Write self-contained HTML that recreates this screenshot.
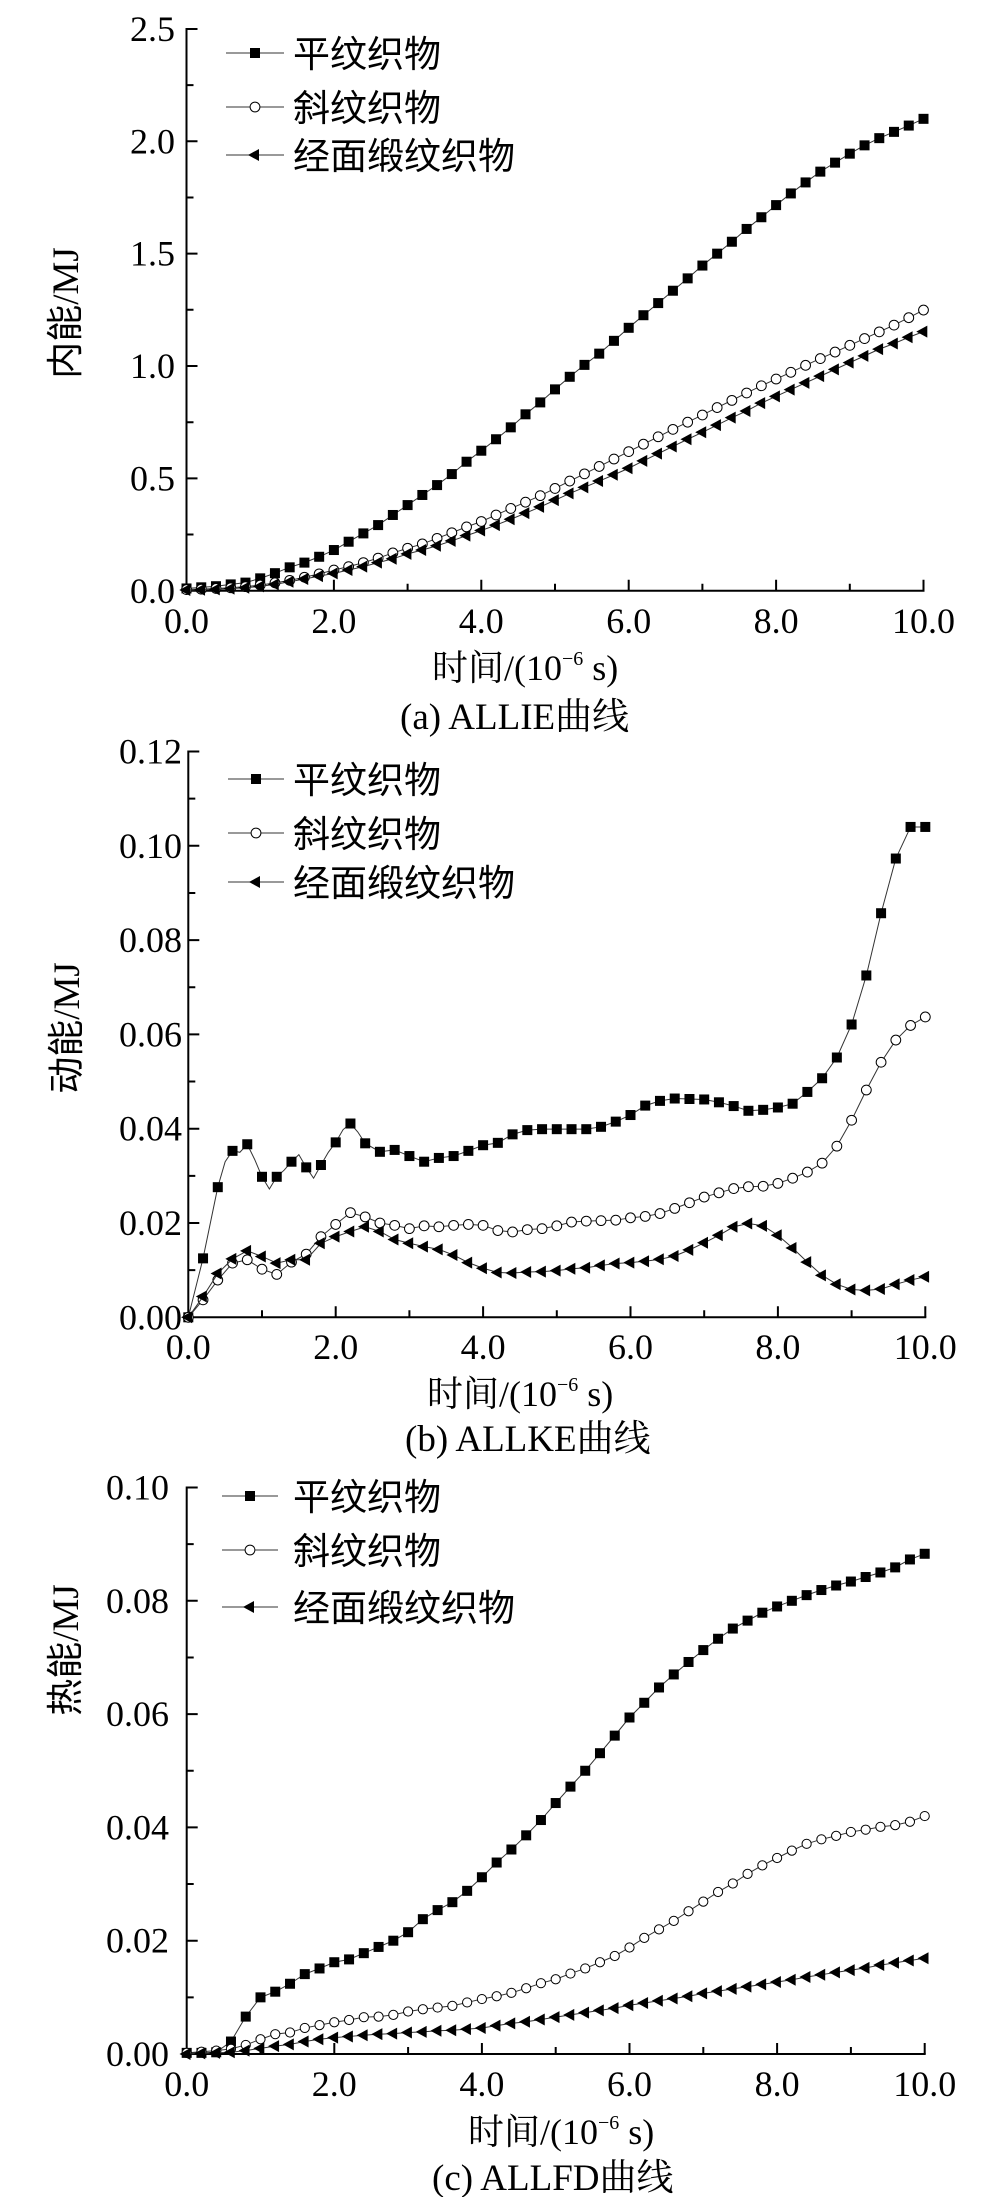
<!DOCTYPE html>
<html><head><meta charset="utf-8">
<style>
html,body{margin:0;padding:0;background:#fff;}
svg{display:block;}
.num{font-family:"Liberation Serif","Noto Serif CJK SC",serif;font-size:36px;fill:#000;}
.ttl{font-family:"Liberation Serif","Noto Serif CJK SC",serif;font-size:36px;fill:#000;}
.cap{font-family:"Liberation Serif","Noto Serif CJK SC",serif;font-size:37px;fill:#000;}
.ylab{font-family:"Liberation Serif","Noto Sans CJK SC",serif;font-size:37px;fill:#000;}
.leg{font-family:"Liberation Sans","Noto Sans CJK SC",sans-serif;font-size:37px;fill:#000;}
</style></head>
<body>
<svg xmlns="http://www.w3.org/2000/svg" width="1000" height="2197" viewBox="0 0 1000 2197">
<defs>
<marker id="sA" markerUnits="userSpaceOnUse" overflow="visible" markerWidth="1" markerHeight="0.2" refX="0.5" refY="0.1"><g transform="translate(0.5,0.1) scale(0.013569,-0.0044504)"><rect x="-5" y="-5" width="10" height="10" fill="#000"/></g></marker>
<marker id="cA" markerUnits="userSpaceOnUse" overflow="visible" markerWidth="1" markerHeight="0.2" refX="0.5" refY="0.1"><g transform="translate(0.5,0.1) scale(0.013569,-0.0044504)"><circle r="4.9" fill="#fff" stroke="#000" stroke-width="1"/></g></marker>
<marker id="tA" markerUnits="userSpaceOnUse" overflow="visible" markerWidth="1" markerHeight="0.2" refX="0.5" refY="0.1"><g transform="translate(0.5,0.1) scale(0.013569,-0.0044504)"><polygon points="-7.2,0 3.8,-6 3.8,6" fill="#000"/></g></marker>
<marker id="sB" markerUnits="userSpaceOnUse" overflow="visible" markerWidth="1" markerHeight="1" refX="0.5" refY="0.5"><g transform="translate(0.5,0.5) scale(0.013569,-0.021209)"><rect x="-5" y="-5" width="10" height="10" fill="#000"/></g></marker>
<marker id="cB" markerUnits="userSpaceOnUse" overflow="visible" markerWidth="1" markerHeight="1" refX="0.5" refY="0.5"><g transform="translate(0.5,0.5) scale(0.013569,-0.021209)"><circle r="4.9" fill="#fff" stroke="#000" stroke-width="1"/></g></marker>
<marker id="tB" markerUnits="userSpaceOnUse" overflow="visible" markerWidth="1" markerHeight="1" refX="0.5" refY="0.5"><g transform="translate(0.5,0.5) scale(0.013569,-0.021209)"><polygon points="-7.2,0 3.8,-6 3.8,6" fill="#000"/></g></marker>
<marker id="sC" markerUnits="userSpaceOnUse" overflow="visible" markerWidth="1" markerHeight="1" refX="0.5" refY="0.5"><g transform="translate(0.5,0.5) scale(0.01355,-0.017652)"><rect x="-5" y="-5" width="10" height="10" fill="#000"/></g></marker>
<marker id="cC" markerUnits="userSpaceOnUse" overflow="visible" markerWidth="1" markerHeight="1" refX="0.5" refY="0.5"><g transform="translate(0.5,0.5) scale(0.01355,-0.017652)"><circle r="4.6" fill="#fff" stroke="#000" stroke-width="1"/></g></marker>
<marker id="tC" markerUnits="userSpaceOnUse" overflow="visible" markerWidth="1" markerHeight="1" refX="0.5" refY="0.5"><g transform="translate(0.5,0.5) scale(0.01355,-0.017652)"><polygon points="-7.2,0 3.8,-6 3.8,6" fill="#000"/></g></marker>
</defs>

<!-- ================= PANEL A ================= -->
<g stroke="#000" stroke-width="2" fill="none">
<line x1="186.5" y1="28" x2="186.5" y2="591.7"/>
<line x1="185.5" y1="590.7" x2="924.5" y2="590.7"/>
<path d="M186.5 478.35h11M186.5 366h11M186.5 253.65h11M186.5 141.3h11M186.5 28.95h11"/>
<path d="M186.5 534.5h7M186.5 422.2h7M186.5 309.8h7M186.5 197.5h7M186.5 85.1h7"/>
<path d="M333.9 590.7v-11M481.3 590.7v-11M628.7 590.7v-11M776.1 590.7v-11M923.5 590.7v-11"/>
<path d="M260.2 590.7v-7M407.6 590.7v-7M555 590.7v-7M702.4 590.7v-7M849.8 590.7v-7"/>
</g>
<g class="num" text-anchor="end">
<text x="175" y="603">0.0</text><text x="175" y="490.5">0.5</text><text x="175" y="378">1.0</text>
<text x="175" y="265.7">1.5</text><text x="175" y="153.3">2.0</text><text x="175" y="41">2.5</text>
</g>
<g class="num" text-anchor="middle">
<text x="186.5" y="633">0.0</text><text x="333.9" y="633">2.0</text><text x="481.3" y="633">4.0</text>
<text x="628.7" y="633">6.0</text><text x="776.1" y="633">8.0</text><text x="923.5" y="633">10.0</text>
</g>
<text class="ttl" x="432" y="680">时间/(10<tspan font-size="20" dy="-15">−6</tspan><tspan dy="15"> s)</tspan></text>
<text class="cap" x="400" y="729">(a) ALLIE曲线</text>
<text class="ylab" x="78" y="313" text-anchor="middle" transform="rotate(-90 78 313)">内能/MJ</text>

<g transform="translate(186.5,590.7) scale(73.7,-224.7)">
<polyline fill="none" stroke="#333" stroke-width="1" vector-effect="non-scaling-stroke" points="0,0.01 0.2,0.015 0.4,0.02 0.6,0.028 0.8,0.036 1,0.055 1.2,0.078 1.4,0.104 1.6,0.125 1.8,0.151 2,0.181 2.2,0.218 2.4,0.255 2.6,0.292 2.8,0.337 3,0.381 3.2,0.426 3.4,0.47 3.6,0.519 3.8,0.574 4,0.623 4.2,0.674 4.4,0.727 4.6,0.785 4.8,0.838 5,0.896 5.2,0.952 5.4,1.005 5.6,1.055 5.8,1.112 6,1.17 6.2,1.226 6.4,1.28 6.6,1.335 6.8,1.39 7,1.447 7.2,1.5 7.4,1.553 7.6,1.61 7.8,1.662 8,1.716 8.2,1.768 8.4,1.817 8.6,1.865 8.8,1.905 9,1.945 9.2,1.982 9.4,2.014 9.6,2.042 9.8,2.07 10,2.1"/>
<polyline fill="none" stroke="none" marker-start="url(#sA)" marker-mid="url(#sA)" marker-end="url(#sA)" points="0,0.01 0.2,0.015 0.4,0.02 0.6,0.028 0.8,0.036 1,0.055 1.2,0.078 1.4,0.104 1.6,0.125 1.8,0.151 2,0.181 2.2,0.218 2.4,0.255 2.6,0.292 2.8,0.337 3,0.381 3.2,0.426 3.4,0.47 3.6,0.519 3.8,0.574 4,0.623 4.2,0.674 4.4,0.727 4.6,0.785 4.8,0.838 5,0.896 5.2,0.952 5.4,1.005 5.6,1.055 5.8,1.112 6,1.17 6.2,1.226 6.4,1.28 6.6,1.335 6.8,1.39 7,1.447 7.2,1.5 7.4,1.553 7.6,1.61 7.8,1.662 8,1.716 8.2,1.768 8.4,1.817 8.6,1.865 8.8,1.905 9,1.945 9.2,1.982 9.4,2.014 9.6,2.042 9.8,2.07 10,2.1"/>
<polyline fill="none" stroke="#333" stroke-width="1" vector-effect="non-scaling-stroke" points="0,0.005 0.2,0.007 0.4,0.01 0.6,0.013 0.8,0.018 1,0.025 1.2,0.035 1.4,0.046 1.6,0.06 1.8,0.075 2,0.092 2.2,0.107 2.4,0.125 2.6,0.145 2.8,0.168 3,0.189 3.2,0.208 3.4,0.233 3.6,0.258 3.8,0.284 4,0.308 4.2,0.337 4.4,0.366 4.6,0.394 4.8,0.423 5,0.455 5.2,0.488 5.4,0.52 5.6,0.553 5.8,0.586 6,0.619 6.2,0.652 6.4,0.685 6.6,0.718 6.8,0.75 7,0.782 7.2,0.815 7.4,0.847 7.6,0.88 7.8,0.912 8,0.942 8.2,0.972 8.4,1.003 8.6,1.033 8.8,1.062 9,1.092 9.2,1.122 9.4,1.152 9.6,1.182 9.8,1.215 10,1.249"/>
<polyline fill="none" stroke="none" marker-start="url(#cA)" marker-mid="url(#cA)" marker-end="url(#cA)" points="0,0.005 0.2,0.007 0.4,0.01 0.6,0.013 0.8,0.018 1,0.025 1.2,0.035 1.4,0.046 1.6,0.06 1.8,0.075 2,0.092 2.2,0.107 2.4,0.125 2.6,0.145 2.8,0.168 3,0.189 3.2,0.208 3.4,0.233 3.6,0.258 3.8,0.284 4,0.308 4.2,0.337 4.4,0.366 4.6,0.394 4.8,0.423 5,0.455 5.2,0.488 5.4,0.52 5.6,0.553 5.8,0.586 6,0.619 6.2,0.652 6.4,0.685 6.6,0.718 6.8,0.75 7,0.782 7.2,0.815 7.4,0.847 7.6,0.88 7.8,0.912 8,0.942 8.2,0.972 8.4,1.003 8.6,1.033 8.8,1.062 9,1.092 9.2,1.122 9.4,1.152 9.6,1.182 9.8,1.215 10,1.249"/>
<polyline fill="none" stroke="#333" stroke-width="1" vector-effect="non-scaling-stroke" points="0,0.003 0.2,0.004 0.4,0.006 0.6,0.009 0.8,0.013 1,0.019 1.2,0.028 1.4,0.04 1.6,0.052 1.8,0.065 2,0.077 2.2,0.092 2.4,0.107 2.6,0.125 2.8,0.142 3,0.164 3.2,0.181 3.4,0.2 3.6,0.222 3.8,0.245 4,0.268 4.2,0.292 4.4,0.318 4.6,0.345 4.8,0.373 5,0.403 5.2,0.433 5.4,0.46 5.6,0.488 5.8,0.516 6,0.545 6.2,0.578 6.4,0.61 6.6,0.642 6.8,0.674 7,0.705 7.2,0.737 7.4,0.77 7.6,0.8 7.8,0.835 8,0.865 8.2,0.895 8.4,0.925 8.6,0.955 8.8,0.985 9,1.015 9.2,1.045 9.4,1.075 9.6,1.1 9.8,1.128 10,1.153"/>
<polyline fill="none" stroke="none" marker-start="url(#tA)" marker-mid="url(#tA)" marker-end="url(#tA)" points="0,0.003 0.2,0.004 0.4,0.006 0.6,0.009 0.8,0.013 1,0.019 1.2,0.028 1.4,0.04 1.6,0.052 1.8,0.065 2,0.077 2.2,0.092 2.4,0.107 2.6,0.125 2.8,0.142 3,0.164 3.2,0.181 3.4,0.2 3.6,0.222 3.8,0.245 4,0.268 4.2,0.292 4.4,0.318 4.6,0.345 4.8,0.373 5,0.403 5.2,0.433 5.4,0.46 5.6,0.488 5.8,0.516 6,0.545 6.2,0.578 6.4,0.61 6.6,0.642 6.8,0.674 7,0.705 7.2,0.737 7.4,0.77 7.6,0.8 7.8,0.835 8,0.865 8.2,0.895 8.4,0.925 8.6,0.955 8.8,0.985 9,1.015 9.2,1.045 9.4,1.075 9.6,1.1 9.8,1.128 10,1.153"/>
</g>
<g stroke="#333" stroke-width="1"><line x1="226" y1="53" x2="284" y2="53"/><line x1="226" y1="107" x2="284" y2="107"/><line x1="226" y1="155" x2="284" y2="155"/></g>
<rect x="250" y="48" width="10" height="10" fill="#000"/>
<circle cx="255" cy="107" r="4.9" fill="#fff" stroke="#000" stroke-width="1"/>
<polygon points="248,155 259,149 259,161" fill="#000"/>
<text class="leg" x="293" y="67">平纹织物</text>
<text class="leg" x="293" y="121">斜纹织物</text>
<text class="leg" x="293" y="169">经面缎纹织物</text>

<!-- ================= PANEL B ================= -->
<g stroke="#000" stroke-width="2" fill="none">
<line x1="188.3" y1="750.5" x2="188.3" y2="1318.3"/>
<line x1="187.3" y1="1317.3" x2="926.3" y2="1317.3"/>
<path d="M188.3 1223h11M188.3 1128.7h11M188.3 1034.4h11M188.3 940.1h11M188.3 845.8h11M188.3 751.5h11"/>
<path d="M188.3 1270.15h7M188.3 1175.85h7M188.3 1081.55h7M188.3 987.25h7M188.3 892.95h7M188.3 798.65h7"/>
<path d="M335.7 1317.3v-11M483.1 1317.3v-11M630.5 1317.3v-11M777.9 1317.3v-11M925.3 1317.3v-11"/>
<path d="M262 1317.3v-7M409.4 1317.3v-7M556.8 1317.3v-7M704.2 1317.3v-7M851.6 1317.3v-7"/>
</g>
<g class="num" text-anchor="end">
<text x="182" y="1329.3">0.00</text><text x="182" y="1235">0.02</text><text x="182" y="1140.7">0.04</text>
<text x="182" y="1046.4">0.06</text><text x="182" y="952.1">0.08</text><text x="182" y="857.8">0.10</text><text x="182" y="763.5">0.12</text>
</g>
<g class="num" text-anchor="middle">
<text x="188.3" y="1359">0.0</text><text x="335.7" y="1359">2.0</text><text x="483.1" y="1359">4.0</text>
<text x="630.5" y="1359">6.0</text><text x="777.9" y="1359">8.0</text><text x="925.3" y="1359">10.0</text>
</g>
<text class="ttl" x="427" y="1406">时间/(10<tspan font-size="20" dy="-15">−6</tspan><tspan dy="15"> s)</tspan></text>
<text class="cap" x="405" y="1451">(b) ALLKE曲线</text>
<text class="ylab" x="79" y="1028" text-anchor="middle" transform="rotate(-90 79 1028)">动能/MJ</text>

<g transform="translate(188.3,1317.3) scale(73.7,-47.15)">
<polyline fill="none" stroke="#333" stroke-width="1" vector-effect="non-scaling-stroke" points="0,0 0.2,1.25 0.4,2.76 0.5,3.3 0.6,3.53 0.7,3.5 0.8,3.67 0.9,3.35 1,2.98 1.1,2.72 1.2,2.98 1.3,3.12 1.4,3.3 1.5,3.45 1.6,3.18 1.7,2.95 1.8,3.23 1.9,3.5 2,3.71 2.1,3.98 2.2,4.11 2.3,3.93 2.4,3.69 2.6,3.51 2.8,3.55 3,3.42 3.2,3.3 3.4,3.38 3.6,3.42 3.8,3.53 4,3.65 4.2,3.7 4.4,3.88 4.6,3.97 4.8,3.99 5,3.99 5.2,3.99 5.4,3.99 5.6,4.04 5.8,4.15 6,4.29 6.2,4.49 6.4,4.59 6.6,4.64 6.8,4.63 7,4.62 7.2,4.56 7.4,4.48 7.6,4.38 7.8,4.4 8,4.45 8.2,4.53 8.4,4.78 8.6,5.07 8.8,5.51 9,6.21 9.2,7.25 9.4,8.57 9.6,9.73 9.8,10.4 10,10.4"/>
<polyline fill="none" stroke="none" marker-start="url(#sB)" marker-mid="url(#sB)" marker-end="url(#sB)" points="0,0 0.2,1.25 0.4,2.76 0.6,3.53 0.8,3.67 1,2.98 1.2,2.98 1.4,3.3 1.6,3.18 1.8,3.23 2,3.71 2.2,4.11 2.4,3.69 2.6,3.51 2.8,3.55 3,3.42 3.2,3.3 3.4,3.38 3.6,3.42 3.8,3.53 4,3.65 4.2,3.7 4.4,3.88 4.6,3.97 4.8,3.99 5,3.99 5.2,3.99 5.4,3.99 5.6,4.04 5.8,4.15 6,4.29 6.2,4.49 6.4,4.59 6.6,4.64 6.8,4.63 7,4.62 7.2,4.56 7.4,4.48 7.6,4.38 7.8,4.4 8,4.45 8.2,4.53 8.4,4.78 8.6,5.07 8.8,5.51 9,6.21 9.2,7.25 9.4,8.57 9.6,9.73 9.8,10.4 10,10.4"/>
<polyline fill="none" stroke="#333" stroke-width="1" vector-effect="non-scaling-stroke" points="0,0 0.2,0.37 0.4,0.79 0.6,1.15 0.8,1.22 1,1.02 1.2,0.91 1.4,1.17 1.6,1.34 1.8,1.71 2,1.97 2.2,2.22 2.4,2.13 2.6,2 2.8,1.95 3,1.88 3.2,1.94 3.4,1.92 3.6,1.95 3.8,1.97 4,1.95 4.2,1.84 4.4,1.81 4.6,1.86 4.8,1.88 5,1.94 5.2,2.02 5.4,2.04 5.6,2.05 5.8,2.06 6,2.11 6.2,2.14 6.4,2.2 6.6,2.31 6.8,2.43 7,2.55 7.2,2.64 7.4,2.73 7.6,2.77 7.8,2.78 8,2.84 8.2,2.95 8.4,3.08 8.6,3.27 8.8,3.63 9,4.18 9.2,4.82 9.4,5.41 9.6,5.88 9.8,6.19 10,6.37"/>
<polyline fill="none" stroke="none" marker-start="url(#cB)" marker-mid="url(#cB)" marker-end="url(#cB)" points="0,0 0.2,0.37 0.4,0.79 0.6,1.15 0.8,1.22 1,1.02 1.2,0.91 1.4,1.17 1.6,1.34 1.8,1.71 2,1.97 2.2,2.22 2.4,2.13 2.6,2 2.8,1.95 3,1.88 3.2,1.94 3.4,1.92 3.6,1.95 3.8,1.97 4,1.95 4.2,1.84 4.4,1.81 4.6,1.86 4.8,1.88 5,1.94 5.2,2.02 5.4,2.04 5.6,2.05 5.8,2.06 6,2.11 6.2,2.14 6.4,2.2 6.6,2.31 6.8,2.43 7,2.55 7.2,2.64 7.4,2.73 7.6,2.77 7.8,2.78 8,2.84 8.2,2.95 8.4,3.08 8.6,3.27 8.8,3.63 9,4.18 9.2,4.82 9.4,5.41 9.6,5.88 9.8,6.19 10,6.37"/>
<polyline fill="none" stroke="#333" stroke-width="1" vector-effect="non-scaling-stroke" points="0,0 0.2,0.44 0.4,0.93 0.6,1.24 0.8,1.41 1,1.29 1.2,1.15 1.4,1.22 1.6,1.22 1.8,1.57 2,1.71 2.2,1.82 2.4,1.92 2.6,1.82 2.8,1.65 3,1.57 3.2,1.5 3.4,1.44 3.6,1.32 3.8,1.16 4,1.04 4.2,0.95 4.4,0.94 4.6,0.96 4.8,0.97 5,0.99 5.2,1.03 5.4,1.05 5.6,1.1 5.8,1.14 6,1.16 6.2,1.19 6.4,1.23 6.6,1.3 6.8,1.43 7,1.58 7.2,1.74 7.4,1.92 7.6,1.99 7.8,1.94 8,1.74 8.2,1.47 8.4,1.17 8.6,0.89 8.8,0.7 9,0.59 9.2,0.57 9.4,0.6 9.6,0.7 9.8,0.79 10,0.86"/>
<polyline fill="none" stroke="none" marker-start="url(#tB)" marker-mid="url(#tB)" marker-end="url(#tB)" points="0,0 0.2,0.44 0.4,0.93 0.6,1.24 0.8,1.41 1,1.29 1.2,1.15 1.4,1.22 1.6,1.22 1.8,1.57 2,1.71 2.2,1.82 2.4,1.92 2.6,1.82 2.8,1.65 3,1.57 3.2,1.5 3.4,1.44 3.6,1.32 3.8,1.16 4,1.04 4.2,0.95 4.4,0.94 4.6,0.96 4.8,0.97 5,0.99 5.2,1.03 5.4,1.05 5.6,1.1 5.8,1.14 6,1.16 6.2,1.19 6.4,1.23 6.6,1.3 6.8,1.43 7,1.58 7.2,1.74 7.4,1.92 7.6,1.99 7.8,1.94 8,1.74 8.2,1.47 8.4,1.17 8.6,0.89 8.8,0.7 9,0.59 9.2,0.57 9.4,0.6 9.6,0.7 9.8,0.79 10,0.86"/>
</g>
<g stroke="#333" stroke-width="1"><line x1="228" y1="779" x2="284" y2="779"/><line x1="228" y1="833" x2="284" y2="833"/><line x1="228" y1="882" x2="284" y2="882"/></g>
<rect x="251" y="774" width="10" height="10" fill="#000"/>
<circle cx="256" cy="833" r="4.9" fill="#fff" stroke="#000" stroke-width="1"/>
<polygon points="249,882 260,876 260,888" fill="#000"/>
<text class="leg" x="293" y="793">平纹织物</text>
<text class="leg" x="293" y="847">斜纹织物</text>
<text class="leg" x="293" y="896">经面缎纹织物</text>

<!-- ================= PANEL C ================= -->
<g stroke="#000" stroke-width="2" fill="none">
<line x1="186.7" y1="1486.5" x2="186.7" y2="2055"/>
<line x1="185.7" y1="2054" x2="925.7" y2="2054"/>
<path d="M186.7 1940.7h11M186.7 1827.4h11M186.7 1714.1h11M186.7 1600.8h11M186.7 1487.5h11"/>
<path d="M186.7 1997.35h7M186.7 1884.05h7M186.7 1770.75h7M186.7 1657.45h7M186.7 1544.15h7"/>
<path d="M334.3 2054v-11M481.9 2054v-11M629.5 2054v-11M777.1 2054v-11M924.7 2054v-11"/>
<path d="M260.5 2054v-7M408.1 2054v-7M555.7 2054v-7M703.3 2054v-7M850.9 2054v-7"/>
</g>
<g class="num" text-anchor="end">
<text x="169" y="2066">0.00</text><text x="169" y="1952.7">0.02</text><text x="169" y="1839.4">0.04</text>
<text x="169" y="1726.1">0.06</text><text x="169" y="1612.8">0.08</text><text x="169" y="1499.5">0.10</text>
</g>
<g class="num" text-anchor="middle">
<text x="186.7" y="2096">0.0</text><text x="334.3" y="2096">2.0</text><text x="481.9" y="2096">4.0</text>
<text x="629.5" y="2096">6.0</text><text x="777.1" y="2096">8.0</text><text x="924.7" y="2096">10.0</text>
</g>
<text class="ttl" x="468" y="2144">时间/(10<tspan font-size="20" dy="-15">−6</tspan><tspan dy="15"> s)</tspan></text>
<text class="cap" x="432" y="2190">(c) ALLFD曲线</text>
<text class="ylab" x="78" y="1650" text-anchor="middle" transform="rotate(-90 78 1650)">热能/MJ</text>

<g transform="translate(186.7,2054) scale(73.8,-56.65)">
<polyline fill="none" stroke="#333" stroke-width="1" vector-effect="non-scaling-stroke" points="0,0.02 0.2,0.02 0.4,0.03 0.6,0.22 0.8,0.66 1,1 1.2,1.1 1.4,1.24 1.6,1.41 1.8,1.51 2,1.62 2.2,1.67 2.4,1.78 2.6,1.89 2.8,2 3,2.15 3.2,2.38 3.4,2.54 3.6,2.68 3.8,2.88 4,3.12 4.2,3.38 4.4,3.61 4.6,3.86 4.8,4.13 5,4.43 5.2,4.72 5.4,5 5.6,5.31 5.8,5.62 6,5.94 6.2,6.2 6.4,6.47 6.6,6.7 6.8,6.92 7,7.13 7.2,7.33 7.4,7.51 7.6,7.65 7.8,7.79 8,7.9 8.2,8 8.4,8.1 8.6,8.19 8.8,8.27 9,8.34 9.2,8.42 9.4,8.5 9.6,8.59 9.8,8.73 10,8.83"/>
<polyline fill="none" stroke="none" marker-start="url(#sC)" marker-mid="url(#sC)" marker-end="url(#sC)" points="0,0.02 0.2,0.02 0.4,0.03 0.6,0.22 0.8,0.66 1,1 1.2,1.1 1.4,1.24 1.6,1.41 1.8,1.51 2,1.62 2.2,1.67 2.4,1.78 2.6,1.89 2.8,2 3,2.15 3.2,2.38 3.4,2.54 3.6,2.68 3.8,2.88 4,3.12 4.2,3.38 4.4,3.61 4.6,3.86 4.8,4.13 5,4.43 5.2,4.72 5.4,5 5.6,5.31 5.8,5.62 6,5.94 6.2,6.2 6.4,6.47 6.6,6.7 6.8,6.92 7,7.13 7.2,7.33 7.4,7.51 7.6,7.65 7.8,7.79 8,7.9 8.2,8 8.4,8.1 8.6,8.19 8.8,8.27 9,8.34 9.2,8.42 9.4,8.5 9.6,8.59 9.8,8.73 10,8.83"/>
<polyline fill="none" stroke="#333" stroke-width="1" vector-effect="non-scaling-stroke" points="0,0.02 0.2,0.04 0.4,0.06 0.6,0.09 0.8,0.16 1,0.26 1.2,0.35 1.4,0.38 1.6,0.46 1.8,0.51 2,0.56 2.2,0.6 2.4,0.65 2.6,0.66 2.8,0.69 3,0.75 3.2,0.79 3.4,0.82 3.6,0.85 3.8,0.91 4,0.97 4.2,1.02 4.4,1.08 4.6,1.16 4.8,1.25 5,1.32 5.2,1.42 5.4,1.51 5.6,1.62 5.8,1.73 6,1.88 6.2,2.05 6.4,2.2 6.6,2.35 6.8,2.52 7,2.69 7.2,2.86 7.4,3.01 7.6,3.18 7.8,3.33 8,3.46 8.2,3.59 8.4,3.71 8.6,3.79 8.8,3.85 9,3.92 9.2,3.96 9.4,4.01 9.6,4.04 9.8,4.1 10,4.2"/>
<polyline fill="none" stroke="none" marker-start="url(#cC)" marker-mid="url(#cC)" marker-end="url(#cC)" points="0,0.02 0.2,0.04 0.4,0.06 0.6,0.09 0.8,0.16 1,0.26 1.2,0.35 1.4,0.38 1.6,0.46 1.8,0.51 2,0.56 2.2,0.6 2.4,0.65 2.6,0.66 2.8,0.69 3,0.75 3.2,0.79 3.4,0.82 3.6,0.85 3.8,0.91 4,0.97 4.2,1.02 4.4,1.08 4.6,1.16 4.8,1.25 5,1.32 5.2,1.42 5.4,1.51 5.6,1.62 5.8,1.73 6,1.88 6.2,2.05 6.4,2.2 6.6,2.35 6.8,2.52 7,2.69 7.2,2.86 7.4,3.01 7.6,3.18 7.8,3.33 8,3.46 8.2,3.59 8.4,3.71 8.6,3.79 8.8,3.85 9,3.92 9.2,3.96 9.4,4.01 9.6,4.04 9.8,4.1 10,4.2"/>
<polyline fill="none" stroke="#333" stroke-width="1" vector-effect="non-scaling-stroke" points="0,0 0.2,0.01 0.4,0.02 0.6,0.03 0.8,0.06 1,0.1 1.2,0.14 1.4,0.17 1.6,0.22 1.8,0.26 2,0.29 2.2,0.31 2.4,0.33 2.6,0.35 2.8,0.36 3,0.38 3.2,0.39 3.4,0.41 3.6,0.42 3.8,0.44 4,0.46 4.2,0.5 4.4,0.54 4.6,0.57 4.8,0.61 5,0.65 5.2,0.69 5.4,0.73 5.6,0.77 5.8,0.81 6,0.86 6.2,0.9 6.4,0.94 6.6,0.98 6.8,1.02 7,1.07 7.2,1.11 7.4,1.15 7.6,1.19 7.8,1.23 8,1.27 8.2,1.31 8.4,1.36 8.6,1.4 8.8,1.44 9,1.48 9.2,1.52 9.4,1.57 9.6,1.61 9.8,1.65 10,1.69"/>
<polyline fill="none" stroke="none" marker-start="url(#tC)" marker-mid="url(#tC)" marker-end="url(#tC)" points="0,0 0.2,0.01 0.4,0.02 0.6,0.03 0.8,0.06 1,0.1 1.2,0.14 1.4,0.17 1.6,0.22 1.8,0.26 2,0.29 2.2,0.31 2.4,0.33 2.6,0.35 2.8,0.36 3,0.38 3.2,0.39 3.4,0.41 3.6,0.42 3.8,0.44 4,0.46 4.2,0.5 4.4,0.54 4.6,0.57 4.8,0.61 5,0.65 5.2,0.69 5.4,0.73 5.6,0.77 5.8,0.81 6,0.86 6.2,0.9 6.4,0.94 6.6,0.98 6.8,1.02 7,1.07 7.2,1.11 7.4,1.15 7.6,1.19 7.8,1.23 8,1.27 8.2,1.31 8.4,1.36 8.6,1.4 8.8,1.44 9,1.48 9.2,1.52 9.4,1.57 9.6,1.61 9.8,1.65 10,1.69"/>
</g>
<g stroke="#333" stroke-width="1"><line x1="222" y1="1496" x2="278" y2="1496"/><line x1="222" y1="1550" x2="278" y2="1550"/><line x1="222" y1="1607" x2="278" y2="1607"/></g>
<rect x="245" y="1491" width="10" height="10" fill="#000"/>
<circle cx="250" cy="1550" r="4.9" fill="#fff" stroke="#000" stroke-width="1"/>
<polygon points="243,1607 254,1601 254,1613" fill="#000"/>
<text class="leg" x="293" y="1510">平纹织物</text>
<text class="leg" x="293" y="1564">斜纹织物</text>
<text class="leg" x="293" y="1621">经面缎纹织物</text>
</svg>
</body></html>
